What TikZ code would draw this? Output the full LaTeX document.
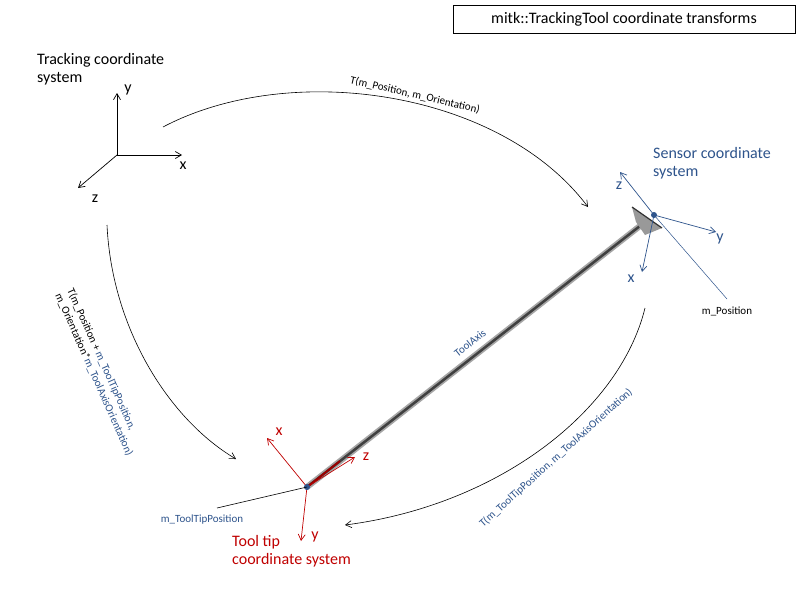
\documentclass[tikz,border=0pt]{standalone}
\usepackage{fontspec}
\setmainfont{Carlito}
\usetikzlibrary{arrows.meta}
\definecolor{sblue}{RGB}{46,84,140}
\definecolor{tred}{RGB}{192,0,0}
\begin{document}
\begin{tikzpicture}[x=1pt,y=-1pt,
  big/.style={font=\fontsize{16}{18}\selectfont,inner sep=1pt},
  small/.style={font=\fontsize{11}{13}\selectfont,inner sep=1pt},
  ax/.style={-{Straight Barb[length=6pt,width=7pt]},line width=0.7pt},
  tr/.style={-{Straight Barb[length=6pt,width=7pt]},line width=0.6pt}]
\useasboundingbox (0,0) rectangle (800,600);
\fill[white] (0,0) rectangle (800,600);
% title
\node[draw,big,minimum width=342pt,minimum height=28pt,inner sep=2pt] (title) at (624,19) {mitk::TrackingTool coordinate transforms};
% tracking system
\coordinate (o) at (117,155);
\coordinate (oy) at (117,93); \coordinate (ox) at (182,155); \coordinate (oz) at (78,188);
\draw[ax] (o) -- (oy); \draw[ax] (o) -- (ox); \draw[ax] (o) -- (oz);
\node[big] (ly) at (128,90) {y};
\node[big] (lx) at (183,166) {x};
\node[big] (lz) at (95,199) {z};
\node[big,align=left,anchor=north west] (tcs) at (36,52) {Tracking coordinate\\system};
% shaft
\coordinate (tip) at (307,487);
\coordinate (sens) at (645,222);
\draw[line width=6pt,gray!70,line cap=round] (tip) -- (sens);
\draw[line width=2.5pt,black!75] (tip) -- (sens);
\draw[line width=2pt,tred!80!black] (tip) -- (340,461);
\fill[gray!80] (632,207) -- (662,228) -- (645,235) -- (636,222) -- cycle;
\draw[line width=1.2pt,black!80] (632,207) -- (662,228);
\node[small,text=sblue,rotate=38] (ta) at (470,343) {ToolAxis};
% sensor system
\coordinate (so) at (654,215);
\draw[ax,sblue] (so) -- (620,172);
\draw[ax,sblue] (so) -- (716,232);
\draw[ax,sblue] (so) -- (642,272);
\fill[sblue] (so) circle (3pt);
\node[big,text=sblue] (sz) at (619,186) {z};
\node[big,text=sblue] (sy) at (720,239) {y};
\node[big,text=sblue] (sx) at (631,279) {x};
\node[big,text=sblue,align=left,anchor=north west] (scs) at (652,146) {Sensor coordinate\\system};
\node[small] (mp) at (727,311) {m\_Position};
\draw[sblue,line width=0.5pt] (so) -- (727,299);
% tool tip system
\draw[ax,tred] (tip) -- (267,438);
\draw[ax,tred] (tip) -- (301,541);
\draw[ax,tred] (tip) -- (355,457);
\fill[sblue] (tip) circle (3pt);
\node[big,text=tred] (tx) at (279,432) {x};
\node[big,text=tred] (tyl) at (315,537) {y};
\node[big,text=tred] (tz) at (366,457) {z};
\node[big,text=tred,align=left,anchor=north west] (ttcs) at (231,534) {Tool tip\\coordinate system};
\draw[line width=0.6pt] (217,508) -- (tip);
\node[small,text=sblue] (mtp) at (202,520) {m\_ToolTipPosition};
% transforms
\coordinate (a1s) at (163,127); \coordinate (a1e) at (588,207);
\draw[tr] (a1s) .. controls (290,60) and (500,90) .. (a1e);
\node[small,rotate=-13] (l1) at (415,95) {T(m\_Position, m\_Orientation)};
\coordinate (a2s) at (107,225); \coordinate (a2e) at (236,459);
\draw[tr] (a2s) .. controls (112,330) and (170,420) .. (a2e);
\node[small,rotate=-66,align=left] (l2) at (100,372) {T(m\_Position + \textcolor{sblue}{m\_ToolTipPosition,}\\m\_Orientation*\textcolor{sblue}{m\_ToolAxisOrientation)}};
\coordinate (a3s) at (645,308); \coordinate (a3e) at (345,525);
\draw[tr] (a3s) .. controls (620,410) and (500,505) .. (a3e);
\node[small,text=sblue,rotate=42] (l3) at (556,458) {T(m\_ToolTipPosition, m\_ToolAxisOrientation)};
\end{tikzpicture}
\end{document}
